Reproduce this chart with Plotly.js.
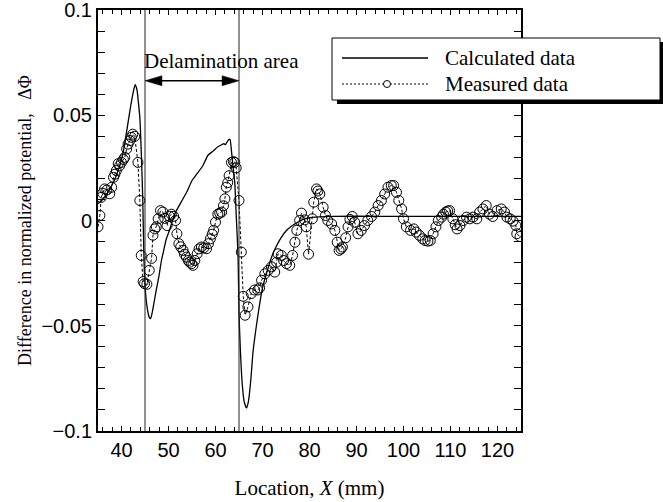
<!DOCTYPE html>
<html>
<head>
<meta charset="utf-8">
<script src="https://cdn.plot.ly/plotly-3.0.1.min.js"></script>
<style>html,body{margin:0;padding:0;background:#fff;}#chart{width:663px;height:502px;}</style>
</head>
<body>
<div id="chart"></div>
<script>
// Calculated data (solid line)
const calcX = [35, 36, 37, 38, 39, 40, 40.5, 41, 41.5, 42, 42.5, 42.9, 43.3, 43.6, 43.9, 44.2, 44.5, 44.8, 45.1, 45.5, 45.9, 46.2, 46.6, 47.0, 47.4, 48.0, 48.5, 49.0, 49.5, 50.3, 51.3, 52.0, 53.0, 54.0, 55.0, 56.0, 57.3, 58.4, 59.5, 60.5, 61.3, 61.8, 62.1, 62.5, 62.9, 63.1, 63.4, 63.8, 64.1, 64.4, 64.8, 65.0, 65.3, 65.7, 66.1, 66.6, 67.0, 67.5, 68.0, 68.7, 69.3, 70.0, 71.0, 72.0, 73.0, 74.0, 75.0, 76.0, 77.0, 78.0, 79.0, 80.0, 82.0, 85.0, 95.0, 105.0, 115.0, 125.0];
const calcY = [0.008, 0.010, 0.013, 0.017, 0.022, 0.029, 0.034, 0.041, 0.048, 0.055, 0.061, 0.0645, 0.062, 0.056, 0.049, 0.033, 0.012, -0.020, -0.034, -0.042, -0.046, -0.0466, -0.043, -0.038, -0.033, -0.026, -0.019, -0.014, -0.009, -0.004, 0.003, 0.006, 0.010, 0.014, 0.019, 0.022, 0.026, 0.031, 0.033, 0.035, 0.036, 0.0365, 0.036, 0.0375, 0.0385, 0.0385, 0.033, 0.024, 0.018, 0.003, -0.017, -0.044, -0.062, -0.078, -0.086, -0.089, -0.086, -0.076, -0.062, -0.050, -0.041, -0.032, -0.024, -0.017, -0.012, -0.008, -0.005, -0.003, -0.0015, -0.0002, 0.0008, 0.0013, 0.0017, 0.002, 0.002, 0.002, 0.002, 0.002];

// Measured data (circles, dashed)
const measX = [35.0, 35.4, 35.7, 36.0, 36.4, 36.9, 37.5, 37.9, 38.3, 38.6, 38.9, 39.3, 39.6, 40.0, 40.4, 40.7, 41.1, 41.4, 41.8, 42.1, 42.4, 42.8, 43.5, 43.9, 44.2, 44.6, 44.9, 45.4, 45.9, 46.4, 46.7, 47.1, 47.4, 47.8, 48.3, 48.8, 49.2, 49.7, 50.2, 50.6, 51.1, 51.5, 51.8, 52.2, 52.6, 53.1, 53.4, 53.8, 54.2, 54.5, 54.9, 55.2, 55.6, 56.1, 56.5, 57.0, 57.5, 58.1, 58.5, 58.9, 59.3, 59.6, 60.0, 60.5, 60.9, 61.3, 61.7, 62.0, 62.3, 62.6, 62.9, 63.4, 63.8, 64.1, 64.4, 65.0, 65.5, 65.9, 66.3, 66.9, 67.6, 68.3, 69.0, 69.4, 69.8, 70.5, 71.2, 71.9, 72.6, 73.0, 73.3, 74.0, 74.5, 75.1, 75.8, 76.4, 76.9, 77.3, 77.9, 78.3, 79.0, 79.3, 79.8, 80.6, 80.9, 81.5, 81.8, 82.2, 82.9, 83.4, 83.9, 84.7, 85.4, 85.9, 86.3, 86.7, 87.0, 87.7, 88.2, 88.6, 89.1, 89.6, 90.3, 91.0, 91.7, 92.4, 93.2, 93.9, 94.6, 95.3, 96.0, 96.7, 97.4, 97.9, 98.5, 99.0, 99.6, 100.0, 100.6, 101.5, 102.2, 102.7, 103.4, 104.1, 104.6, 105.2, 105.7, 106.3, 106.9, 107.4, 108.1, 108.5, 109.0, 109.4, 109.8, 110.5, 111.0, 111.4, 112.0, 112.7, 113.4, 114.1, 114.8, 115.6, 116.2, 116.9, 117.6, 118.3, 119.0, 119.9, 120.8, 121.5, 122.0, 122.7, 123.3, 123.9, 124.1, 124.8];
const measY = [-0.003, 0.0024, 0.011, 0.013, 0.015, 0.0145, 0.0127, 0.0158, 0.0205, 0.022, 0.0237, 0.027, 0.026, 0.0276, 0.029, 0.030, 0.034, 0.0363, 0.038, 0.0395, 0.041, 0.040, 0.0276, 0.0095, -0.0166, -0.029, -0.030, -0.0303, -0.0237, -0.018, -0.007, -0.004, -0.003, 0.0008, 0.0047, 0.004, 0.001, -0.0024, 0.002, 0.003, 0.002, 0.0, -0.0063, -0.011, -0.0125, -0.0142, -0.016, -0.0174, -0.019, -0.0198, -0.0205, -0.0213, -0.019, -0.0158, -0.0135, -0.0126, -0.013, -0.0134, -0.011, -0.0087, -0.0065, -0.0047, -0.0008, 0.003, 0.0035, 0.004, 0.007, 0.0103, 0.0158, 0.018, 0.0213, 0.0276, 0.028, 0.0276, 0.025, 0.0095, -0.015, -0.036, -0.045, -0.041, -0.0347, -0.033, -0.033, -0.032, -0.0284, -0.0253, -0.0237, -0.022, -0.0245, -0.0198, -0.0158, -0.0166, -0.019, -0.0205, -0.0213, -0.0166, -0.0103, -0.0047, 0.0, 0.0035, 0.0003, -0.003, -0.016, 0.0008, 0.0087, 0.015, 0.014, 0.0126, 0.0063, 0.0024, 0.0, -0.0016, -0.0047, -0.0103, -0.0142, -0.0135, -0.0126, -0.0082, -0.003, 0.0005, 0.0019, -0.0008, -0.0063, -0.0047, -0.0024, 0.0, 0.0019, 0.004, 0.0071, 0.0095, 0.0126, 0.0158, 0.0166, 0.0166, 0.0134, 0.0095, 0.0055, 0.0008, -0.003, -0.0047, -0.004, -0.0055, -0.0071, -0.0087, -0.0095, -0.0098, -0.0095, -0.0063, -0.003, 0.0, 0.0016, 0.003, 0.004, 0.0045, 0.0047, 0.0008, -0.002, -0.004, -0.0024, 0.0, 0.0016, 0.0008, 0.0016, 0.0008, 0.004, 0.0055, 0.0071, 0.003, 0.0019, 0.0047, 0.0055, 0.004, 0.0016, 0.0008, -0.0003, -0.0024, -0.0063, -0.0076];

// Axis ticks and labels
const yTickVals = [-0.1, -0.05, 0, 0.05, 0.1];
const yTickText = ['\u22120.1', '\u22120.05', '0', '0.05', '0.1'];
const xTickVals = [40, 50, 60, 70, 80, 90, 100, 110, 120];
const xTickText = ['40', '50', '60', '70', '80', '90', '100', '110', '120'];

// Delamination boundaries and labels
const delamX = [45, 65];
const delamLabel = "Delamination area";
const legendLabels = ["Calculated data", "Measured data"];

const SERIF = "'Liberation Serif', 'Times New Roman', serif";
const SANS = "'Liberation Sans', Arial, sans-serif";

// plot area in px
const L = 98, R = 521, T = 10, B = 431;
const W = 663, H = 502;
const px = v => (v - L) / (R - L);
const py = v => (B - v) / (B - T);

const traces = [
  {x: calcX, y: calcY, type: 'scatter', mode: 'lines', name: legendLabels[0],
   line: {color: '#000', width: 1.3, shape: 'spline', smoothing: 0.5}, showlegend: false},
  {x: measX, y: measY, type: 'scatter', mode: 'lines+markers', name: legendLabels[1],
   line: {color: '#000', width: 1, dash: '3px,2px'},
   marker: {symbol: 'circle-open', size: 10, color: '#000', line: {width: 1, color: '#000'}},
   showlegend: false},
  // empty trace so that the mirrored top/right frame axes get drawn
  {x: [], y: [], type: 'scatter', mode: 'lines', xaxis: 'x2', yaxis: 'y2', showlegend: false, hoverinfo: 'skip'}
];

const arrowY = 0.0664, headLen = 3.6, headHalf = 0.00237;
const shapes = [
  {type: 'line', xref: 'x', yref: 'paper', x0: delamX[0], x1: delamX[0], y0: 0, y1: 1, line: {color: '#222', width: 1}},
  {type: 'line', xref: 'x', yref: 'paper', x0: delamX[1], x1: delamX[1], y0: 0, y1: 1, line: {color: '#222', width: 1}},
  {type: 'line', xref: 'x', yref: 'y', x0: delamX[0] + 1, x1: delamX[1] - 1, y0: arrowY, y1: arrowY, line: {color: '#000', width: 1.5}},
  {type: 'path', xref: 'x', yref: 'y', fillcolor: '#000', line: {color: '#000', width: 0.5},
   path: `M ${delamX[0]},${arrowY} L ${delamX[0] + headLen},${arrowY + headHalf} L ${delamX[0] + headLen},${arrowY - headHalf} Z`},
  {type: 'path', xref: 'x', yref: 'y', fillcolor: '#000', line: {color: '#000', width: 0.5},
   path: `M ${delamX[1]},${arrowY} L ${delamX[1] - headLen},${arrowY + headHalf} L ${delamX[1] - headLen},${arrowY - headHalf} Z`},
  // legend shadow and box
  {type: 'rect', xref: 'paper', yref: 'paper', x0: px(337), x1: px(690), y0: py(104), y1: py(42), fillcolor: '#000', line: {width: 0}, layer: 'above'},
  {type: 'rect', xref: 'paper', yref: 'paper', x0: px(332), x1: px(660), y0: py(100), y1: py(38), fillcolor: '#fff', line: {color: '#000', width: 1}, layer: 'above'},
  {type: 'line', xref: 'paper', yref: 'paper', x0: px(342), x1: px(428), y0: py(58), y1: py(58), line: {color: '#000', width: 1.3}, layer: 'above'},
  {type: 'line', xref: 'paper', yref: 'paper', x0: px(342), x1: px(428), y0: py(84), y1: py(84), line: {color: '#000', width: 1, dash: '2px,2px'}, layer: 'above'},
  {type: 'circle', xref: 'paper', yref: 'paper', x0: px(383.5), x1: px(390.5), y0: py(87.5), y1: py(80.5), fillcolor: '#fff', line: {color: '#000', width: 1}, layer: 'above'}
];

const annotations = [
  {xref: 'x', yref: 'y', x: 61.3, y: 0.0758, text: delamLabel, showarrow: false,
   font: {family: SERIF, size: 21, color: '#000'}, xanchor: 'center', yanchor: 'middle'},
  {xref: 'paper', yref: 'paper', x: px(443), y: py(58), text: legendLabels[0], showarrow: false,
   font: {family: SERIF, size: 21, color: '#000'}, xanchor: 'left', yanchor: 'middle'},
  {xref: 'paper', yref: 'paper', x: px(443), y: py(84), text: legendLabels[1], showarrow: false,
   font: {family: SERIF, size: 21, color: '#000'}, xanchor: 'left', yanchor: 'middle'}
];

const xCommon = {
  range: [35, 125], ticks: 'inside', ticklen: 5, tickwidth: 1, tickcolor: '#000',
  minor: {dtick: 2, tick0: 0, ticks: 'inside', ticklen: 4, tickwidth: 1, tickcolor: '#000', showgrid: false},
  showline: true, linewidth: 2, linecolor: '#000', showgrid: false, zeroline: false,
  tickmode: 'array', tickvals: xTickVals, ticktext: xTickText, automargin: false,
  ticklabeloverflow: 'allow', layer: 'above traces'
};
const yCommon = {
  range: [-0.1, 0.1], ticks: 'inside', ticklen: 7, tickwidth: 1, tickcolor: '#000',
  minor: {dtick: 0.01, tick0: 0, ticks: 'inside', ticklen: 7, tickwidth: 1, tickcolor: '#000', showgrid: false},
  showline: true, linewidth: 2, linecolor: '#000', showgrid: false, zeroline: false,
  tickmode: 'array', tickvals: yTickVals, ticktext: yTickText, automargin: false,
  ticklabeloverflow: 'allow', layer: 'above traces'
};

const layout = {
  width: W, height: H,
  margin: {l: L, r: W - R, t: T, b: H - B, pad: 0},
  showlegend: false,
  font: {family: SANS, size: 20, color: '#000'},
  xaxis: Object.assign({}, xCommon, {
    tickfont: {family: SANS, size: 20, color: '#000'},
    title: {text: 'Location, <i>X</i> (mm)', font: {family: SERIF, size: 21, color: '#000'}, standoff: 20}
  }),
  yaxis: Object.assign({}, yCommon, {
    tickfont: {family: SANS, size: 20, color: '#000'},
    title: {text: 'Difference in normalized potential,\u00a0\u00a0\u00a0ΔΦ', font: {family: SERIF, size: 18, color: '#000'}, standoff: 5}
  }),
  xaxis2: Object.assign({}, xCommon, {overlaying: 'x', side: 'top', anchor: 'y', showticklabels: false}),
  yaxis2: Object.assign({}, yCommon, {overlaying: 'y', side: 'right', anchor: 'x', showticklabels: false}),
  shapes: shapes,
  annotations: annotations
};

Plotly.newPlot('chart', traces, layout, {displayModeBar: false, staticPlot: true});
</script>
</body>
</html>
